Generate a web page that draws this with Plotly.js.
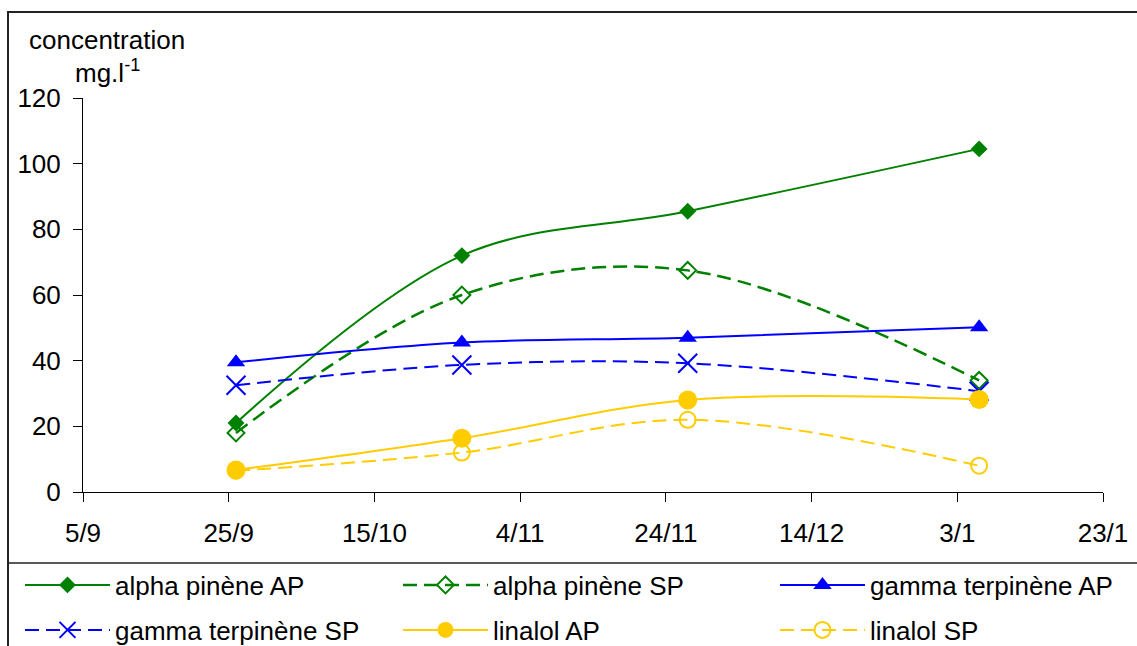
<!DOCTYPE html>
<html>
<head>
<meta charset="utf-8">
<script src="https://cdn.plot.ly/plotly-3.0.1.min.js"></script>
<style>html,body{margin:0;padding:0;background:#fff;}#chart{width:1137px;height:646px;}</style>
</head>
<body>
<div id="chart"></div>
<script>
// ---- data ----
const dates = ['2004-09-26', '2004-10-27', '2004-11-27', '2005-01-06'];
const alphaPineneAP = [21, 72, 85.5, 104.5];
const alphaPineneSP = [18, 60, 67.5, 34];
const gammaTerpineneAP = [39.5, 45.5, 47, 50.2];
const gammaTerpineneSP = [32.5, 38.7, 39.2, 30.7];
const linalolAP = [6.7, 16.4, 28, 28.2];
const linalolSP = [6.5, 12, 22, 8];
const seriesNames = ['alpha pinène AP', 'alpha pinène SP', 'gamma terpinène AP',
                     'gamma terpinène SP', 'linalol AP', 'linalol SP'];
const xRange = ['2004-09-05', '2005-01-23'];
const yTicks = [0, 20, 40, 60, 80, 100, 120];

// ---- layout helpers (pixel -> paper) ----
const L = 83, R = 1103, T = 98, B = 492;
const px = x => (x - L) / (R - L);
const py = y => (B - y) / (B - T);

const GREEN = '#008000', BLUE = '#0000FF', GOLD = '#FFCC00';
const DASH = '14px,7px';
const FONT = 'Arial, "Liberation Sans", sans-serif';

function tr(y, name, color, dash, width, symbol, msize, mline, legend) {
  return {
    type: 'scatter', mode: 'lines+markers', x: dates, y: y, name: name,
    line: {color: color, width: width, dash: dash, shape: 'spline', smoothing: 1},
    marker: {symbol: symbol, size: msize, color: color, line: {color: color, width: mline}},
    legend: legend, showlegend: true, cliponaxis: false
  };
}

const data = [
  tr(alphaPineneAP, seriesNames[0], GREEN, 'solid', 2, 'diamond', 13, 0, 'legend'),
  tr(alphaPineneSP, seriesNames[1], GREEN, DASH, 2.5, 'diamond-open', 13, 2, 'legend2'),
  tr(gammaTerpineneAP, seriesNames[2], BLUE, 'solid', 2, 'triangle-up', 16, 0, 'legend3'),
  tr(gammaTerpineneSP, seriesNames[3], BLUE, DASH, 2, 'x-thin-open', 19, 2, 'legend4'),
  tr(linalolAP, seriesNames[4], GOLD, 'solid', 2, 'circle', 19, 0, 'legend5'),
  tr(linalolSP, seriesNames[5], GOLD, DASH, 2, 'circle-open', 16, 2, 'legend6')
];

const colX = [px(20), px(398), px(775)];
const rowY = [py(585), py(630)];
function leg(i) {
  return {
    x: colX[i % 3], y: rowY[Math.floor(i / 3)], xanchor: 'left', yanchor: 'middle',
    orientation: 'h', itemwidth: 85, bgcolor: 'rgba(0,0,0,0)', borderwidth: 0,
    font: {family: FONT, size: 26, color: '#000'}, itemclick: false
  };
}

const layout = {
  width: 1137, height: 646,
  margin: {l: L, r: 1137 - R, t: T, b: 646 - B, pad: 0, autoexpand: false},
  paper_bgcolor: '#fff', plot_bgcolor: '#fff',
  font: {family: FONT, size: 26, color: '#000'},
  showlegend: true,
  xaxis: {
    type: 'date', range: xRange, tick0: xRange[0], dtick: 20 * 86400000,
    tickformat: '%-d/%-m', ticks: 'outside', ticklen: 9, tickcolor: '#000',
    showline: true, linecolor: '#000', linewidth: 1, showgrid: false, zeroline: false,
    tickfont: {family: FONT, size: 26, color: '#000'}, ticklabelstandoff: 9, fixedrange: true
  },
  yaxis: {
    range: [0, 120], tickvals: yTicks, ticks: 'outside', ticklen: 9, tickcolor: '#000',
    showline: true, linecolor: '#000', linewidth: 1, showgrid: false, zeroline: false,
    tickfont: {family: FONT, size: 26, color: '#000'}, ticklabelstandoff: 7, fixedrange: true
  },
  legend: leg(0), legend2: leg(1), legend3: leg(2),
  legend4: leg(3), legend5: leg(4), legend6: leg(5),
  annotations: [
    {text: 'concentration', xref: 'paper', yref: 'paper', x: px(27), y: py(40),
     xanchor: 'left', yanchor: 'middle', showarrow: false, font: {family: FONT, size: 26, color: '#000'}},
    {text: 'mg.l<sup>-1</sup>', xref: 'paper', yref: 'paper', x: px(73), y: py(72),
     xanchor: 'left', yanchor: 'middle', showarrow: false, font: {family: FONT, size: 26, color: '#000'}}
  ],
  shapes: [
    {type: 'rect', xref: 'paper', yref: 'paper', x0: px(8), x1: px(1150), y0: py(660), y1: py(12),
     line: {color: '#222', width: 2}, layer: 'below'},
    {type: 'line', xref: 'paper', yref: 'paper', x0: px(8), x1: px(1150), y0: py(563), y1: py(563),
     line: {color: '#222', width: 1.5}, layer: 'below'}
  ]
};

Plotly.newPlot('chart', data, layout, {displayModeBar: false, staticPlot: true});
</script>
</body>
</html>
